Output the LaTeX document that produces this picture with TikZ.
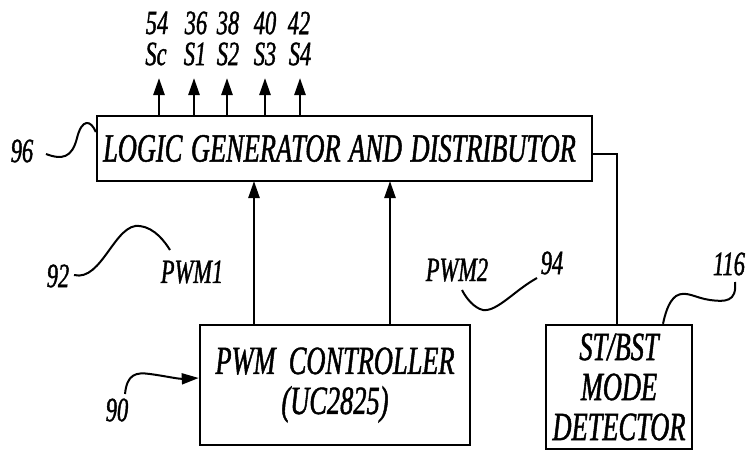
\documentclass[tikz,border=0pt]{standalone}
\usepackage{fontspec}
\setmainfont{Liberation Serif}[FakeStretch=0.66,FakeBold=1.2]
\usepackage{tikz}
\usetikzlibrary{arrows.meta}

\begin{document}
\begin{tikzpicture}[x=1pt,y=-1pt,
	block/.style={draw, line width=2.5pt, inner sep=0pt, align=center,
		font=\itshape\fontsize{40}{40}\selectfont},
	tag/.style={inner sep=0pt, font=\itshape\fontsize{34}{34}\selectfont},
	sig/.style={line width=2.5pt, -{Triangle[length=17pt,width=11pt]}},
	lead/.style={line width=2pt}]
	\useasboundingbox (0,0) rectangle (747,451);
	% blocks
	\node [block, minimum width=495pt, minimum height=65pt] (logic) at (344.5,148.5) {LOGIC\hspace{2pt} GENERATOR\hspace{2pt} AND\hspace{2pt} DISTRIBUTOR\hspace{10pt}};
	\node [block, minimum width=270pt, minimum height=120pt] (pwm) at (335,385) {PWM \,CONTROLLER\\(UC2825)};
	\node [block, minimum width=146pt, minimum height=124pt] (det) at (619,387) {ST/BST\\MODE\\DETECTOR};
	% outputs
	\coordinate (sc) at (159,78);
	\coordinate (s1) at (194,78);
	\coordinate (s2) at (227,78);
	\coordinate (s3) at (265,78);
	\coordinate (s4) at (300,78);
	\draw [sig] (logic.north -| sc) -- (sc);
	\draw [sig] (logic.north -| s1) -- (s1);
	\draw [sig] (logic.north -| s2) -- (s2);
	\draw [sig] (logic.north -| s3) -- (s3);
	\draw [sig] (logic.north -| s4) -- (s4);
	\node [tag] (n54) at (157,23) {54};
	\node [tag] (n36) at (196,23) {36};
	\node [tag] (n38) at (228,23) {38};
	\node [tag] (n40) at (265,23) {40};
	\node [tag] (n42) at (299,23) {42};
	\node [tag] (lsc) at (156,54) {Sc};
	\node [tag] (ls1) at (195,54) {S1};
	\node [tag] (ls2) at (228,54) {S2};
	\node [tag] (ls3) at (265,54) {S3};
	\node [tag] (ls4) at (300,54) {S4};
	% PWM signals
	\coordinate (p1) at (254,181);
	\coordinate (p2) at (390,181);
	\draw [sig] (pwm.north -| p1) -- (p1);
	\draw [sig] (pwm.north -| p2) -- (p2);
	\node [tag] (pwm1) at (192,272) {PWM1};
	\node [tag] (pwm2) at (457,270) {PWM2};
	% mode line
	\draw [line width=2.5pt] ([yshift=-5.5pt]logic.east) -| ([xshift=-2pt]det.north);
	% reference numerals
	\node [tag] (n96) at (22,151) {96};
	\draw [lead] (46,154) .. controls (62,160) and (72,158) .. (77,138) .. controls (82,118) and (91,120) .. ([yshift=16.5pt]logic.west);
	\node [tag] (n92) at (58,276) {92};
	\coordinate (e92) at (170,250);
	\draw [lead] (74,275) .. controls (102,282) and (115,222) .. (140,226) .. controls (155,228) and (165,242) .. (e92);
	\node [tag] (n90) at (117,410) {90};
	\draw [sig, line width=2pt] (125,394) .. controls (127,374) and (136,372) .. (150,374) .. controls (165,376) and (178,379) .. ([yshift=7pt]pwm.west);
	\node [tag] (n94) at (552,263) {94};
	\coordinate (e94) at (462,290);
	\draw [lead] (537,278) .. controls (515,290) and (497,312) .. (483,310) .. controls (474,308) and (466,298) .. (e94);
	\node [tag] (n116) at (729,264) {116};
	\draw [lead] (735,282) .. controls (737,302) and (725,302) .. (710,300) .. controls (695,298) and (686,290) .. (676,296) .. controls (668,302) and (665,315) .. ([xshift=44pt]det.north);
\end{tikzpicture}
\end{document}
